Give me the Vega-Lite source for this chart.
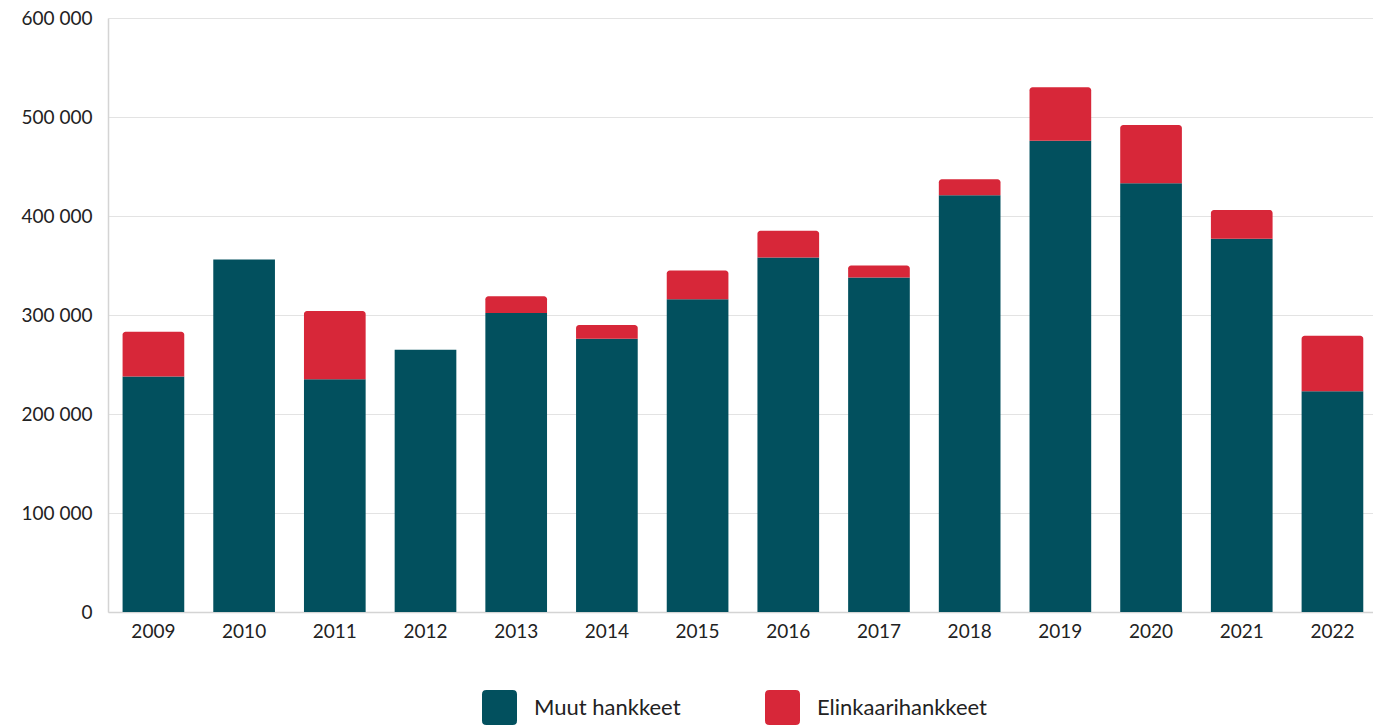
{
  "$schema": "https://vega.github.io/schema/vega-lite/v6.json",
  "width": 1265,
  "height": 594,
  "autosize": {"type": "none"},
  "padding": {"left": 108, "top": 18, "right": 0, "bottom": 113},
  "background": "white",
  "config": {"view": {"stroke": null}, "font": "Lato"},
  "data": {
    "values": [
      {"year": "2009", "series": "Muut hankkeet", "value": 238000},
      {"year": "2009", "series": "Elinkaarihankkeet", "value": 45000},
      {"year": "2010", "series": "Muut hankkeet", "value": 356000},
      {"year": "2011", "series": "Muut hankkeet", "value": 235000},
      {"year": "2011", "series": "Elinkaarihankkeet", "value": 69000},
      {"year": "2012", "series": "Muut hankkeet", "value": 265000},
      {"year": "2013", "series": "Muut hankkeet", "value": 302000},
      {"year": "2013", "series": "Elinkaarihankkeet", "value": 17000},
      {"year": "2014", "series": "Muut hankkeet", "value": 276000},
      {"year": "2014", "series": "Elinkaarihankkeet", "value": 14000},
      {"year": "2015", "series": "Muut hankkeet", "value": 316000},
      {"year": "2015", "series": "Elinkaarihankkeet", "value": 29000},
      {"year": "2016", "series": "Muut hankkeet", "value": 358000},
      {"year": "2016", "series": "Elinkaarihankkeet", "value": 27000},
      {"year": "2017", "series": "Muut hankkeet", "value": 338000},
      {"year": "2017", "series": "Elinkaarihankkeet", "value": 12000},
      {"year": "2018", "series": "Muut hankkeet", "value": 421000},
      {"year": "2018", "series": "Elinkaarihankkeet", "value": 16000},
      {"year": "2019", "series": "Muut hankkeet", "value": 476000},
      {"year": "2019", "series": "Elinkaarihankkeet", "value": 54000},
      {"year": "2020", "series": "Muut hankkeet", "value": 433000},
      {"year": "2020", "series": "Elinkaarihankkeet", "value": 59000},
      {"year": "2021", "series": "Muut hankkeet", "value": 377000},
      {"year": "2021", "series": "Elinkaarihankkeet", "value": 29000},
      {"year": "2022", "series": "Muut hankkeet", "value": 223000},
      {"year": "2022", "series": "Elinkaarihankkeet", "value": 56000}
    ]
  },
  "transform": [
    {"stack": "value", "groupby": ["year"], "sort": [{"field": "series", "order": "descending"}], "as": ["v0", "v1"]}
  ],
  "encoding": {
    "x": {
      "field": "year", "type": "ordinal",
      "scale": {"paddingInner": 0.32, "paddingOuter": 0.134, "align": 0.6},
      "axis": {"title": null, "labelAngle": 0, "labelFontSize": 19, "labelColor": "#222222", "labelPadding": 10, "ticks": false, "domainColor": "#d4d4d4", "domainWidth": 1.5}
    },
    "y": {
      "field": "v1", "type": "quantitative",
      "scale": {"domain": [0, 600000], "nice": false},
      "axis": {
        "title": null,
        "values": [0, 100000, 200000, 300000, 400000, 500000, 600000],
        "labelExpr": "datum.value == 0 ? '0' : format(datum.value / 1000, 'd') + ' 000'",
        "labelFontSize": 19, "labelColor": "#222222", "labelPadding": 16, "ticks": false,
        "domainColor": "#d4d4d4", "domainWidth": 1.5,
        "gridColor": "#e3e3e3", "gridWidth": 1
      }
    },
    "y2": {"field": "v0"},
    "color": {
      "field": "series", "type": "nominal",
      "scale": {"domain": ["Muut hankkeet", "Elinkaarihankkeet"], "range": ["#02505e", "#d72739"]},
      "legend": {
        "title": null, "orient": "none", "legendX": 374, "legendY": 672, "direction": "horizontal",
        "symbolType": "M-1,-0.75Q-1,-1,-0.75,-1L0.75,-1Q1,-1,1,-0.75L1,0.75Q1,1,0.75,1L-0.75,1Q-1,1,-1,0.75Z",
        "symbolSize": 1225, "symbolStrokeWidth": 0, "symbolOpacity": 1,
        "labelFontSize": 22, "labelColor": "#222222", "labelOffset": 17, "labelLimit": 400, "columnPadding": 84
      }
    }
  },
  "layer": [
    {
      "transform": [{"filter": "datum.series === 'Muut hankkeet'"}],
      "mark": {"type": "bar"}
    },
    {
      "transform": [{"filter": "datum.series === 'Elinkaarihankkeet'"}],
      "mark": {"type": "bar", "cornerRadiusTopLeft": 3, "cornerRadiusTopRight": 3}
    }
  ]
}
